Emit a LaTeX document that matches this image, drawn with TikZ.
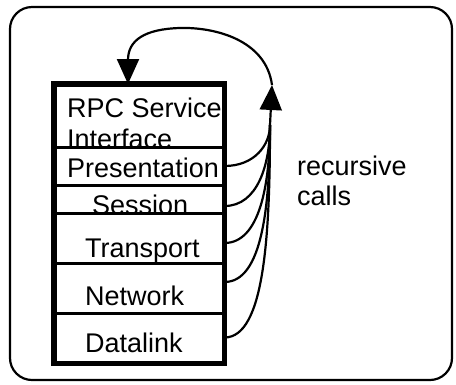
\documentclass[tikz,border=0pt]{standalone}
\usepackage{fontspec}
\setmainfont{Liberation Sans}
\usetikzlibrary{arrows.meta}
\begin{document}
\begin{tikzpicture}[x=1pt,y=-1pt,
  layer/.style={draw, line width=3pt, minimum width=168pt, inner sep=0pt},
  lbl/.style={anchor=base west, inner sep=0pt, font=\fontsize{27}{30}\selectfont},
  call/.style={line width=2.2pt},
  tip/.style={-{Triangle[length=25pt,width=22pt]}}
]
\useasboundingbox (0,0) rectangle (456,384);
% outer frame
\draw[line width=2.2pt, rounded corners=22pt] (10,7) rectangle (452,380);
% labels
\node[lbl] (t1) at (67,117) {RPC Service};
\node[lbl] (t2) at (67,148) {Interface};
\node[lbl] (t3) at (67,177) {Presentation};
\node[lbl] (t4) at (92,214) {Session};
\node[lbl] (t5) at (85,257) {Transport};
\node[lbl] (t6) at (85,305) {Network};
\node[lbl] (t7) at (85,352) {Datalink};
% layers
\node[layer, minimum height=62pt] (rpc)  at (139,116) {};
\node[layer, minimum height=38pt] (pres) at (139,166) {};
\node[layer, minimum height=28pt] (sess) at (139,199) {};
\node[layer, minimum height=50pt] (tran) at (139,238) {};
\node[layer, minimum height=50pt] (netw) at (139,288) {};
\node[layer, minimum height=49pt] (dlnk) at (139,337.5) {};
\draw[line width=4.5pt] (rpc.north west) rectangle (dlnk.south east);
% recursive calls
\coordinate (join) at (270,125);
\coordinate (tipR) at (272,85);
\coordinate (into) at (128,84);
\draw[call] (pres.east) .. controls +(30,0) and +(0,20) .. (join);
\draw[call] ([yshift=-7pt]sess.east) .. controls +(33,0) and +(0,40) .. (join);
\draw[call] ([yshift=-5pt]tran.east) .. controls +(35,0) and +(0,60) .. (join);
\draw[call] ([yshift=6pt]netw.east) .. controls +(38,0) and +(0,80) .. (join);
\draw[call] (dlnk.east) .. controls +(40,0) and +(0,110) .. (join);
\draw[call, tip] (join) -- (tipR);
\draw[call, tip] (tipR) .. controls (266,40) and (215,27) .. (180,28)
  .. controls (145,29) and (128,40) .. (128,60) -- (into);
\node[lbl] (rc1) at (297,175) {recursive};
\node[lbl] (rc2) at (297,205) {calls};
\end{tikzpicture}
\end{document}
